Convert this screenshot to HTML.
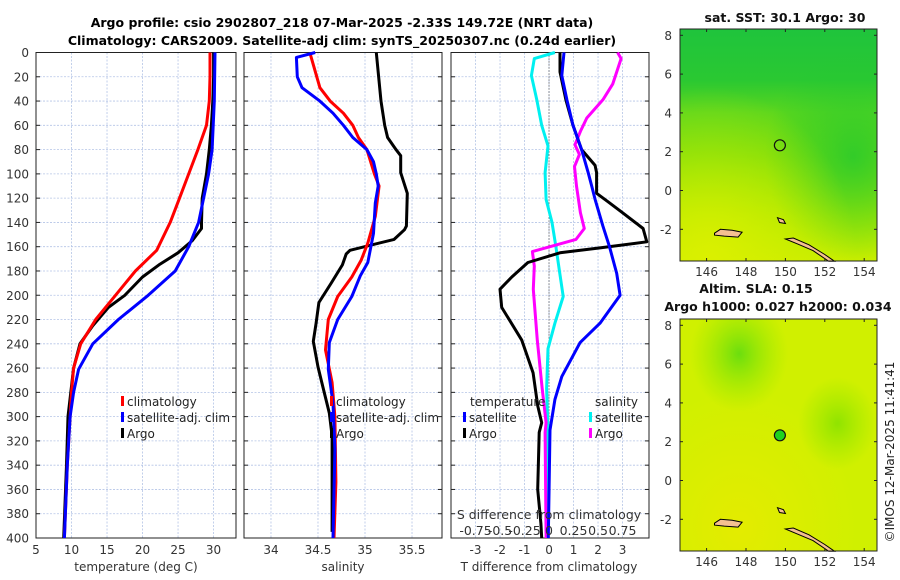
<!DOCTYPE html>
<html><head><meta charset="utf-8">
<style>
body{margin:0;background:#fff;}
svg{display:block;font-family:"DejaVu Sans","Liberation Sans",sans-serif;}
</style></head>
<body>
<svg id="chart" width="900" height="580" viewBox="0 0 900 580">
<defs>
<linearGradient id="sstV" x1="0" y1="0" x2="0" y2="1">
<stop offset="0" stop-color="#1fc43c"/><stop offset="0.22" stop-color="#2ac832"/>
<stop offset="0.36" stop-color="#5ad61e"/><stop offset="0.55" stop-color="#74dc0c"/>
<stop offset="0.8" stop-color="#a8e800"/><stop offset="1" stop-color="#c8ee00"/></linearGradient>
<radialGradient id="sstY" cx="0.15" cy="1" r="0.75"><stop offset="0" stop-color="#dcf000" stop-opacity="0.95"/><stop offset="1" stop-color="#d8f000" stop-opacity="0"/></radialGradient>
<radialGradient id="sstG" cx="0.88" cy="0.55" r="0.45"><stop offset="0" stop-color="#22c830" stop-opacity="0.8"/><stop offset="1" stop-color="#22c830" stop-opacity="0"/></radialGradient>
<radialGradient id="slaY" cx="0.3" cy="0.9" r="0.6"><stop offset="0" stop-color="#ecea00" stop-opacity="0.7"/><stop offset="1" stop-color="#ecea00" stop-opacity="0"/></radialGradient>
<radialGradient id="slaG1" cx="0.3" cy="0.15" r="0.25"><stop offset="0" stop-color="#60dc10" stop-opacity="0.9"/><stop offset="1" stop-color="#90e800" stop-opacity="0"/></radialGradient>
<radialGradient id="slaG2" cx="0.8" cy="0.45" r="0.2"><stop offset="0" stop-color="#80e000" stop-opacity="0.8"/><stop offset="1" stop-color="#90e800" stop-opacity="0"/></radialGradient>
</defs>
<g id="titles">
<text x="342" y="27" text-anchor="middle" font-size="12.5" font-weight="bold">Argo profile: csio 2902807_218 07-Mar-2025 -2.33S 149.72E (NRT data)</text>
<text x="342" y="45" text-anchor="middle" font-size="12.5" font-weight="bold">Climatology: CARS2009. Satellite-adj clim: synTS_20250307.nc (0.24d earlier)</text>
</g>
<g id="panels"></g>
<g id="maps"></g>
<text transform="translate(894,452) rotate(-90)" text-anchor="middle" font-size="12" fill="#222">©IMOS 12-Mar-2025 11:41:41</text>
</svg>
<script>
// ---- Panel 1: temperature ----
const dArgoT=[0,20,40,60,80,100,120,140,145,155,165,175,185,200,210,225,240,260,280,300,340,400];
const tArgo=[30.0,30.0,29.9,29.7,29.4,29.0,28.4,28.3,28.3,27.0,25.0,22.3,20.0,17.5,15.2,13.0,11.2,10.3,9.9,9.5,9.3,8.9];
const dClimT=[0,20,40,60,80,100,120,140,163,180,200,220,240,260,280,300,340,400];
const tClim=[29.5,29.5,29.4,29.0,27.8,26.5,25.2,23.9,22.0,19.0,16.2,13.4,11.3,10.3,10.0,9.8,9.4,9.0];
const dSatT=[0,40,80,100,120,140,160,180,200,220,240,261,280,300,340,400];
const tSat=[30.2,30.1,29.8,29.3,28.6,27.9,26.5,24.6,20.8,16.6,13.0,11.0,10.3,9.8,9.4,9.0];
// ---- Panel 2: salinity ----
const dArgoS=[0,40,60,70,80,85,99,116,143,146,154,163,166,175,190,206,223,238,259,278,297,316,395];
const sArgo=[35.12,35.17,35.21,35.24,35.33,35.38,35.38,35.45,35.44,35.42,35.31,34.84,34.80,34.76,34.64,34.51,34.48,34.45,34.50,34.56,34.62,34.65,34.65];
const dClimS=[0,2,29,40,50,60,70,80,100,110,135,157,171,185,201,220,245,272,300,354,400];
const sClim=[34.43,34.42,34.52,34.63,34.77,34.87,34.93,35.02,35.10,35.15,35.11,35.03,34.96,34.86,34.71,34.61,34.58,34.65,34.68,34.69,34.67];
const dSatS=[0,4,20,29,40,50,60,70,80,90,100,110,124,149,173,184,201,220,239,261,289,327,400];
const sSat=[34.47,34.27,34.28,34.33,34.52,34.66,34.77,34.87,35.02,35.09,35.12,35.14,35.11,35.09,35.03,34.95,34.86,34.71,34.62,34.61,34.66,34.68,34.66];
// ---- Panel 3: differences ----
const dArgoDT=[0,16,39,60,80,93,99,116,123,132,145,156,161,165,173,185,195,210,237,264,291,305,313,360,388,400];
const dtArgo=[0.45,0.45,0.69,0.98,1.33,1.88,1.94,1.94,2.41,3.0,3.84,3.99,2.08,0.45,-0.86,-1.52,-2.0,-1.93,-1.11,-0.65,-0.46,-0.30,-0.40,-0.46,-0.33,-0.30];
const dSatDT=[0,19,39,60,80,99,110,121,143,160,182,200,223,239,267,286,311,400];
const dtSat=[0.61,0.52,0.73,0.98,1.33,1.60,1.74,1.88,2.20,2.47,2.76,2.90,2.08,1.27,0.52,0.24,0.04,-0.03];
const dSatDS=[0,5,19,39,60,77,99,121,140,160,182,201,223,244,277,311,400];
const dsSat=[0.06,-0.15,-0.18,-0.125,-0.075,-0.01,-0.04,-0.03,0.03,0.07,0.11,0.145,0.06,-0.01,-0.025,-0.01,-0.01];
const dArgoDS=[0,5,26,39,54,65,76,84,94,110,132,145,154,164,176,195,237,277,305,313,400];
const dsArgo=[0.70,0.735,0.65,0.55,0.385,0.32,0.265,0.31,0.26,0.28,0.32,0.36,0.275,-0.17,-0.15,-0.16,-0.12,-0.07,-0.03,-0.04,-0.03];
// ---- ticks ----
const depthTicks=[0,20,40,60,80,100,120,140,160,180,200,220,240,260,280,300,320,340,360,380,400];
const tempTicks=[5,10,15,20,25,30];
const salTicks=[34,34.5,35,35.5];
const dtTicks=[-3,-2,-1,0,1,2,3];
const dsTicks=[-0.75,-0.5,-0.25,0,0.25,0.5,0.75];
const lonTicks=[146,148,150,152,154];
const latTicks=[8,6,4,2,0,-2];
const argoLon=149.72, argoLat=2.33;

const NS='http://www.w3.org/2000/svg';
function mk(tag,attrs,parent,txt){const e=document.createElementNS(NS,tag);for(const k in attrs)e.setAttribute(k,attrs[k]);if(txt!==undefined)e.textContent=txt;parent.appendChild(e);return e;}
const Y0=52.5,Y1=538;
const FS=12;
function yD(d){return Y0+(d/400)*(Y1-Y0);}
const panels=[
 {x0:36,x1:236,vmin:5,vmax:33.16,name:'temperature-panel'},
 {x0:244,x1:442,vmin:33.713,vmax:35.819,name:'salinity-panel'},
 {x0:451,x1:649,vmin:-4.0,vmax:4.08,name:'difference-panel'}];
function xS(p,v){return p.x0+(v-p.vmin)/(p.vmax-p.vmin)*(p.x1-p.x0);}
const root=document.getElementById('panels');
panels.forEach((p,i)=>{
 const g=mk('g',{},root);
 
 
 const xt=i===0?tempTicks:i===1?salTicks:dtTicks;
 depthTicks.forEach(d=>{if(d>0&&d<400){const l=mk('line',{x1:p.x0,x2:p.x1,y1:yD(d),y2:yD(d),stroke:'#b4c4e6','stroke-width':0.8,'stroke-dasharray':'2,1.5'},g);
  mk('line',{x1:p.x0,x2:p.x0+4,y1:yD(d),y2:yD(d),stroke:'#222'},g);mk('line',{x1:p.x1,x2:p.x1-4,y1:yD(d),y2:yD(d),stroke:'#222'},g);}});
 xt.forEach(v=>{const x=xS(p,v);const l=mk('line',{x1:x,x2:x,y1:Y0,y2:Y1,stroke:'#b4c4e6','stroke-width':0.8,'stroke-dasharray':'2,1.5'},g);
  const t=mk('text',{x:x,y:554,'text-anchor':'middle','font-size':FS,fill:'#333'},g,String(v));});
 if(i===0){depthTicks.forEach(d=>{const t=mk('text',{x:29,y:yD(d)+4.5,'text-anchor':'end','font-size':FS,fill:'#333'},g,String(d));});}
 const f=mk('rect',{x:p.x0,y:Y0,width:p.x1-p.x0,height:Y1-Y0,fill:'none',stroke:'#222','stroke-width':1},g);
 
});
function series(p,ds,vs,color,name,scale){
 const pts=ds.map((d,k)=>xS(p,vs[k]*(scale||1)).toFixed(1)+','+yD(d).toFixed(1)).join(' ');
 const e=mk('polyline',{points:pts,fill:'none',stroke:color,'stroke-width':3,'stroke-linejoin':'round'},root);
 
 
}
const zl=mk('line',{x1:xS(panels[2],0),x2:xS(panels[2],0),y1:Y0,y2:Y1,stroke:'#444','stroke-width':1,'stroke-dasharray':'1,2'},root);


series(panels[0],dArgoT,tArgo,'#000','argo-temperature-line');
series(panels[0],dClimT,tClim,'#f00','climatology-temperature-line');
series(panels[0],dSatT,tSat,'#00f','satellite-temperature-line');
series(panels[1],dArgoS,sArgo,'#000','argo-salinity-line');
series(panels[1],dClimS,sClim,'#f00','climatology-salinity-line');
series(panels[1],dSatS,sSat,'#00f','satellite-salinity-line');
series(panels[2],dSatDS,dsSat,'#00f0f0','satellite-salinity-diff-line',4);
series(panels[2],dArgoDS,dsArgo,'#ff00ff','argo-salinity-diff-line',4);
series(panels[2],dArgoDT,dtArgo,'#000','argo-temperature-diff-line');
series(panels[2],dSatDT,dtSat,'#00f','satellite-temperature-diff-line');
function txt(x,y,s,name,opts){const t=mk('text',Object.assign({x:x,y:y,'text-anchor':'middle','font-size':FS,fill:'#333'},opts||{}),root,s);return t;}
txt(136,571,'temperature (deg C)','x-axis-title-temperature');
txt(343,571,'salinity','x-axis-title-salinity');
txt(549,571,'T difference from climatology','x-axis-title-t-diff');
txt(549,519,'S difference from climatology','s-diff-axis-title',{'font-size':12.5});
dsTicks.forEach(v=>{txt(xS(panels[2],v*4),535,String(v),'s-diff-tick-label',{'font-size':12.5});});
function leg(x,y,color,label,name){const g=mk('g',{},root);
 mk('rect',{x:x,y:y-10,width:3,height:10,fill:color},g);mk('text',{x:x+6,y:y,'font-size':FS,fill:'#222'},g,label);}
leg(121,406,'#f00','climatology','legend-entry-climatology');
leg(121,422,'#00f','satellite-adj. clim','legend-entry-satellite');
leg(121,438,'#000','Argo','legend-entry-argo');
leg(330,406,'#f00','climatology','legend-entry-climatology-s');
leg(330,422,'#00f','satellite-adj. clim','legend-entry-satellite-s');
leg(330,438,'#000','Argo','legend-entry-argo-s');
txt(470,406,'temperature','legend-title-temperature',{'text-anchor':'start',fill:'#222'});
leg(463,422,'#00f','satellite','legend-entry-t-satellite');
leg(463,438,'#000','Argo','legend-entry-t-argo');
txt(595,406,'salinity','legend-title-salinity',{'text-anchor':'start',fill:'#222'});
leg(589,422,'#00f0f0','satellite','legend-entry-s-satellite');
leg(589,438,'#ff00ff','Argo','legend-entry-s-argo');

// ---- maps ----
const maps=document.getElementById('maps');
function mapPanel(yoff,kind){
 const g=mk('g',{},maps);
 
 
 const X0=680,X1=877,T0=29+yoff,T1=261+yoff;
 const lx=v=>680+(v-144.65)*19.7, ly=v=>35.3+yoff+(8-v)*19.4;
 if(kind==='sst'){
  mk('rect',{x:X0,y:T0,width:X1-X0,height:T1-T0,fill:'url(#sstV)'},g);
  mk('rect',{x:X0,y:T0,width:X1-X0,height:T1-T0,fill:'url(#sstG)'},g);
  mk('rect',{x:X0,y:T0,width:X1-X0,height:T1-T0,fill:'url(#sstY)'},g);
 } else {
  mk('rect',{x:X0,y:T0,width:X1-X0,height:T1-T0,fill:'#d0f000'},g);
  mk('rect',{x:X0,y:T0,width:X1-X0,height:T1-T0,fill:'url(#slaY)'},g);
  mk('rect',{x:X0,y:T0,width:X1-X0,height:T1-T0,fill:'url(#slaG1)'},g);
  mk('rect',{x:X0,y:T0,width:X1-X0,height:T1-T0,fill:'url(#slaG2)'},g);
 }
 const isl1=[[146.4,-2.2],[146.7,-2.0],[147.3,-2.05],[147.8,-2.15],[147.6,-2.4],[146.9,-2.35],[146.4,-2.3]];
 const isl2=[[150.0,-2.5],[150.4,-2.45],[151.2,-2.8],[152.0,-3.3],[152.5,-3.65],[152.2,-3.65],[151.4,-3.1],[150.6,-2.75]];
 const isl3=[[149.6,-1.4],[149.9,-1.5],[150.0,-1.7],[149.7,-1.65]];
 [isl1,isl2,isl3].forEach(is=>{const e=mk('polygon',{points:is.map(q=>lx(q[0]).toFixed(1)+','+ly(q[1]).toFixed(1)).join(' '),fill:'#f4c090',stroke:'#000','stroke-width':1},g);});
 const m=mk('circle',{cx:lx(argoLon),cy:ly(argoLat),r:5.5,fill:kind==='sst'?'none':'#1fd21f',stroke:'#111','stroke-width':1.2},g);
 
 
 mk('rect',{x:X0,y:T0,width:X1-X0,height:T1-T0,fill:'none',stroke:'#222'},g);
 lonTicks.forEach(v=>{const t=mk('text',{x:lx(v),y:T1+15,'text-anchor':'middle','font-size':FS,fill:'#333'},g,String(v));
  mk('line',{x1:lx(v),x2:lx(v),y1:T1,y2:T1-3,stroke:'#222'},g);mk('line',{x1:lx(v),x2:lx(v),y1:T0,y2:T0+3,stroke:'#222'},g);});
 latTicks.forEach(v=>{const t=mk('text',{x:672,y:ly(v)+4.5,'text-anchor':'end','font-size':FS,fill:'#333'},g,String(v));
  mk('line',{x1:X0,x2:X0+3,y1:ly(v),y2:ly(v),stroke:'#222'},g);mk('line',{x1:X1,x2:X1-3,y1:ly(v),y2:ly(v),stroke:'#222'},g);});
}
mapPanel(0,'sst');
mapPanel(290,'sla');
txt(785,22,'sat. SST: 30.1 Argo: 30','sst-map-title',{'font-size':12.5,'font-weight':'bold',fill:'#111'});
txt(756,293,'Altim. SLA: 0.15','sla-map-title',{'font-size':12.5,'font-weight':'bold',fill:'#111'});
txt(778,311,'Argo h1000: 0.027 h2000: 0.034','sla-map-subtitle',{'font-size':12.5,'font-weight':'bold',fill:'#111'});
</script>
</body></html>
